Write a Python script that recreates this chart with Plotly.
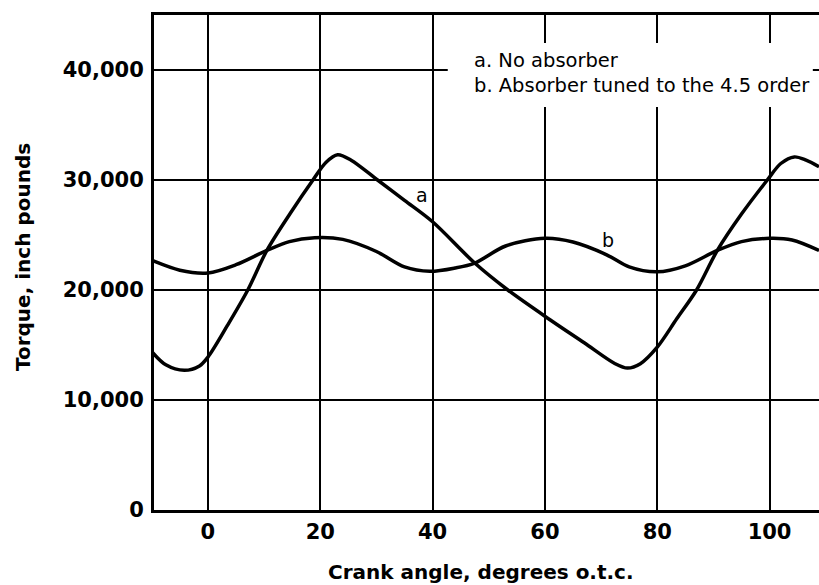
import plotly.graph_objects as go

# Curve a: no absorber
a_x = [-10, -7.5, -4.2, -1.5, 0, 3.5, 7.1, 10.5, 14.7, 18.7, 21, 23.1, 25.5, 30.2, 35, 40,
       47.5, 53.4, 60.9, 67, 72.5, 74.7, 77, 80, 83.5, 87, 90.7, 95, 99.6, 102, 104.4, 106.5, 108.8]
a_y = [14400, 13200, 12700, 13100, 13900, 16800, 20000, 23600, 27000, 30000, 31600, 32300, 31800, 30000, 28150, 26200,
       22450, 20000, 17300, 15200, 13300, 12900, 13300, 14800, 17400, 20000, 23600, 26900, 30000, 31500, 32100, 31800, 31200]

# Curve b: absorber tuned to the 4.5 order
b_x = [-10, -5, 0, 5, 10.5, 14.5, 19, 24, 30, 35, 39.5, 44, 47.5, 53, 60, 65, 71, 75, 80, 85, 90.7, 95, 100, 104, 108.8]
b_y = [22700, 21800, 21550, 22300, 23600, 24400, 24750, 24600, 23500, 22100, 21700, 22000, 22450, 24000, 24700, 24360,
       23200, 22100, 21650, 22200, 23600, 24400, 24700, 24550, 23600]

x_ticks = [0, 20, 40, 60, 80, 100]
y_ticks = [0, 10000, 20000, 30000, 40000]
y_ticktext = ["0", "10,000", "20,000", "30,000", "40,000"]

legend_lines = ["a. No absorber", "b. Absorber tuned to the 4.5 order"]

FONT = "DejaVu Sans"

fig = go.Figure()
fig.add_trace(go.Scatter(x=a_x, y=a_y, mode="lines", line=dict(color="black", width=3.5, shape="spline", smoothing=0.9),
                         showlegend=False, hoverinfo="skip"))
fig.add_trace(go.Scatter(x=b_x, y=b_y, mode="lines", line=dict(color="black", width=3.5, shape="spline", smoothing=0.9),
                         showlegend=False, hoverinfo="skip"))

fig.update_layout(
    width=819, height=585,
    margin=dict(l=154, r=0, t=15, b=75),
    paper_bgcolor="white", plot_bgcolor="white",
    font=dict(family=FONT, color="black"),
    xaxis=dict(range=[-9.6, 108.8], tickvals=x_ticks, showgrid=True, gridcolor="black", gridwidth=2,
               showline=True, linecolor="black", linewidth=3, mirror=True, zeroline=False,
               ticks="outside", ticklen=1, tickcolor="rgba(0,0,0,0)",
               tickfont=dict(family=FONT, size=21, weight="bold", color="black")),
    yaxis=dict(range=[0, 45000], tickvals=y_ticks, ticktext=y_ticktext, showgrid=True, gridcolor="black", gridwidth=2,
               showline=True, linecolor="black", linewidth=3, zeroline=False,
               ticks="outside", ticklen=3, tickcolor="rgba(0,0,0,0)",
               tickfont=dict(family=FONT, size=21, weight="bold", color="black")),
)

# white box behind legend text
fig.add_shape(type="rect", xref="x", yref="y", x0=42.7, x1=107.7, y0=36640, y1=42450,
              fillcolor="white", line=dict(width=0), layer="above")

fig.add_annotation(x=47.0, y=40900, xref="x", yref="y", text=legend_lines[0], showarrow=False,
                   xanchor="left", yanchor="middle", font=dict(family=FONT, size=19.5, color="black"))
fig.add_annotation(x=47.0, y=38600, xref="x", yref="y", text=legend_lines[1], showarrow=False,
                   xanchor="left", yanchor="middle", font=dict(family=FONT, size=19.5, color="black"))

# curve labels
fig.add_annotation(x=38.1, y=28640, xref="x", yref="y", text="a", showarrow=False,
                   font=dict(family=FONT, size=19, color="black"))
fig.add_annotation(x=71.2, y=24550, xref="x", yref="y", text="b", showarrow=False,
                   font=dict(family=FONT, size=19, color="black"))

# axis titles
fig.add_annotation(x=-0.197, y=0.511, xref="paper", yref="paper", text="Torque, inch pounds", showarrow=False,
                   textangle=-90, xanchor="center", yanchor="middle",
                   font=dict(family=FONT, size=20, weight="bold", color="black"))
fig.add_annotation(x=0.492, y=-0.125, xref="paper", yref="paper", text="Crank angle, degrees o.t.c.", showarrow=False,
                   xanchor="center", yanchor="middle",
                   font=dict(family=FONT, size=20, weight="bold", color="black"))

fig.write_html("out.html", config={"displayModeBar": False},
               post_script="document.body.style.margin='0';")
